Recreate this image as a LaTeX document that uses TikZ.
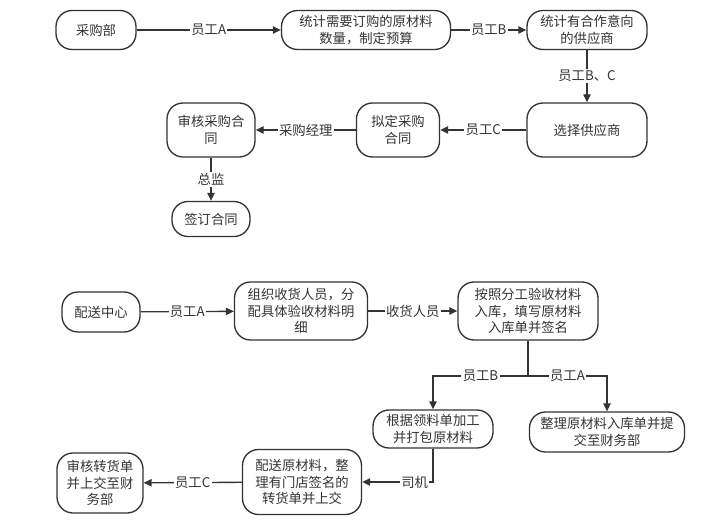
\documentclass[tikz,border=0pt]{standalone}
\usepackage{fontspec}
\setmainfont{Noto Sans CJK SC}
\usetikzlibrary{arrows.meta}
\definecolor{ink}{HTML}{333333}
\begin{document}
\begin{tikzpicture}[x=0.75pt,y=-0.75pt,
  box/.style={draw=ink, line width=1pt, rounded corners=12pt, align=center, inner sep=0pt,
    font=\fontsize{10}{12.2}\selectfont, text=ink},
  sz/.style 2 args={minimum width=#1*0.75pt, minimum height=#2*0.75pt},
  lbl/.style={fill=white, inner sep=1pt, font=\fontsize{10}{12}\selectfont, text=ink},
  ln/.style={draw=ink, line width=1pt},
  arr/.style={ln, -{Triangle[length=6pt,width=5.5pt]}}]
\useasboundingbox (0,0) rectangle (713,520);
% top section
\node[box, sz={80}{39}] (cgb) at (96,30) {采购部};
\node[box, sz={169}{39}] (tj) at (366,30) {统计需要订购的原材料\\数量，制定预算};
\node[box, sz={120}{39}] (gys) at (587,30) {统计有合作意向\\的供应商};
\node[box, sz={120}{54}] (xz) at (587,130) {选择供应商};
\node[box, sz={83}{54}] (nd) at (398,130) {拟定采购\\合同};
\node[box, sz={88}{54}] (sh) at (211,130) {审核采购合\\同};
\node[box, sz={78}{35}] (qd) at (211,219) {签订合同};
\draw[arr] (cgb) -- node[lbl]{员工A} (tj);
\draw[arr] (tj) -- node[lbl]{员工B} (gys);
\draw[arr] (gys) -- node[lbl]{员工B、C} (xz);
\draw[arr] (xz) -- node[lbl]{员工C} (nd);
\draw[arr] (nd) -- node[lbl]{采购经理} (sh);
\draw[arr] (sh) -- node[lbl]{总监} (qd);
% bottom section
\node[box, sz={78}{40}] (ps) at (101,312) {配送中心};
\node[box, sz={133}{58}] (zz) at (301,311) {组织收货人员，分\\配具体验收材料明\\细};
\node[box, sz={140}{58}] (az) at (528,311) {按照分工验收材料\\入库，填写原材料\\入库单并签名};
\node[box, sz={120}{38}] (gj) at (433,429) {根据领料单加工\\并打包原材料};
\node[box, sz={155}{40}] (zl) at (607,432) {整理原材料入库单并提\\交至财务部};
\node[box, sz={119}{65}] (pys) at (302,482) {配送原材料，整\\理有门店签名的\\转货单并上交};
\node[box, sz={86}{60}] (shz) at (100,483) {审核转货单\\并上交至财\\务部};
\coordinate (sp) at (528,376);
\draw[arr] (ps) -- node[lbl]{员工A} (zz);
\draw[arr] (zz) -- node[lbl]{收货人员} (az);
\draw[ln] (az) -- (sp);
\draw[arr] (sp) -| node[lbl, pos=0.25]{员工B} (gj);
\draw[arr] (sp) -| node[lbl, pos=0.25]{员工A} (zl);
\draw[arr] (gj) |- node[lbl, pos=0.63]{司机} (pys);
\draw[arr] (pys) -- node[lbl]{员工C} (shz);
\end{tikzpicture}
\end{document}
